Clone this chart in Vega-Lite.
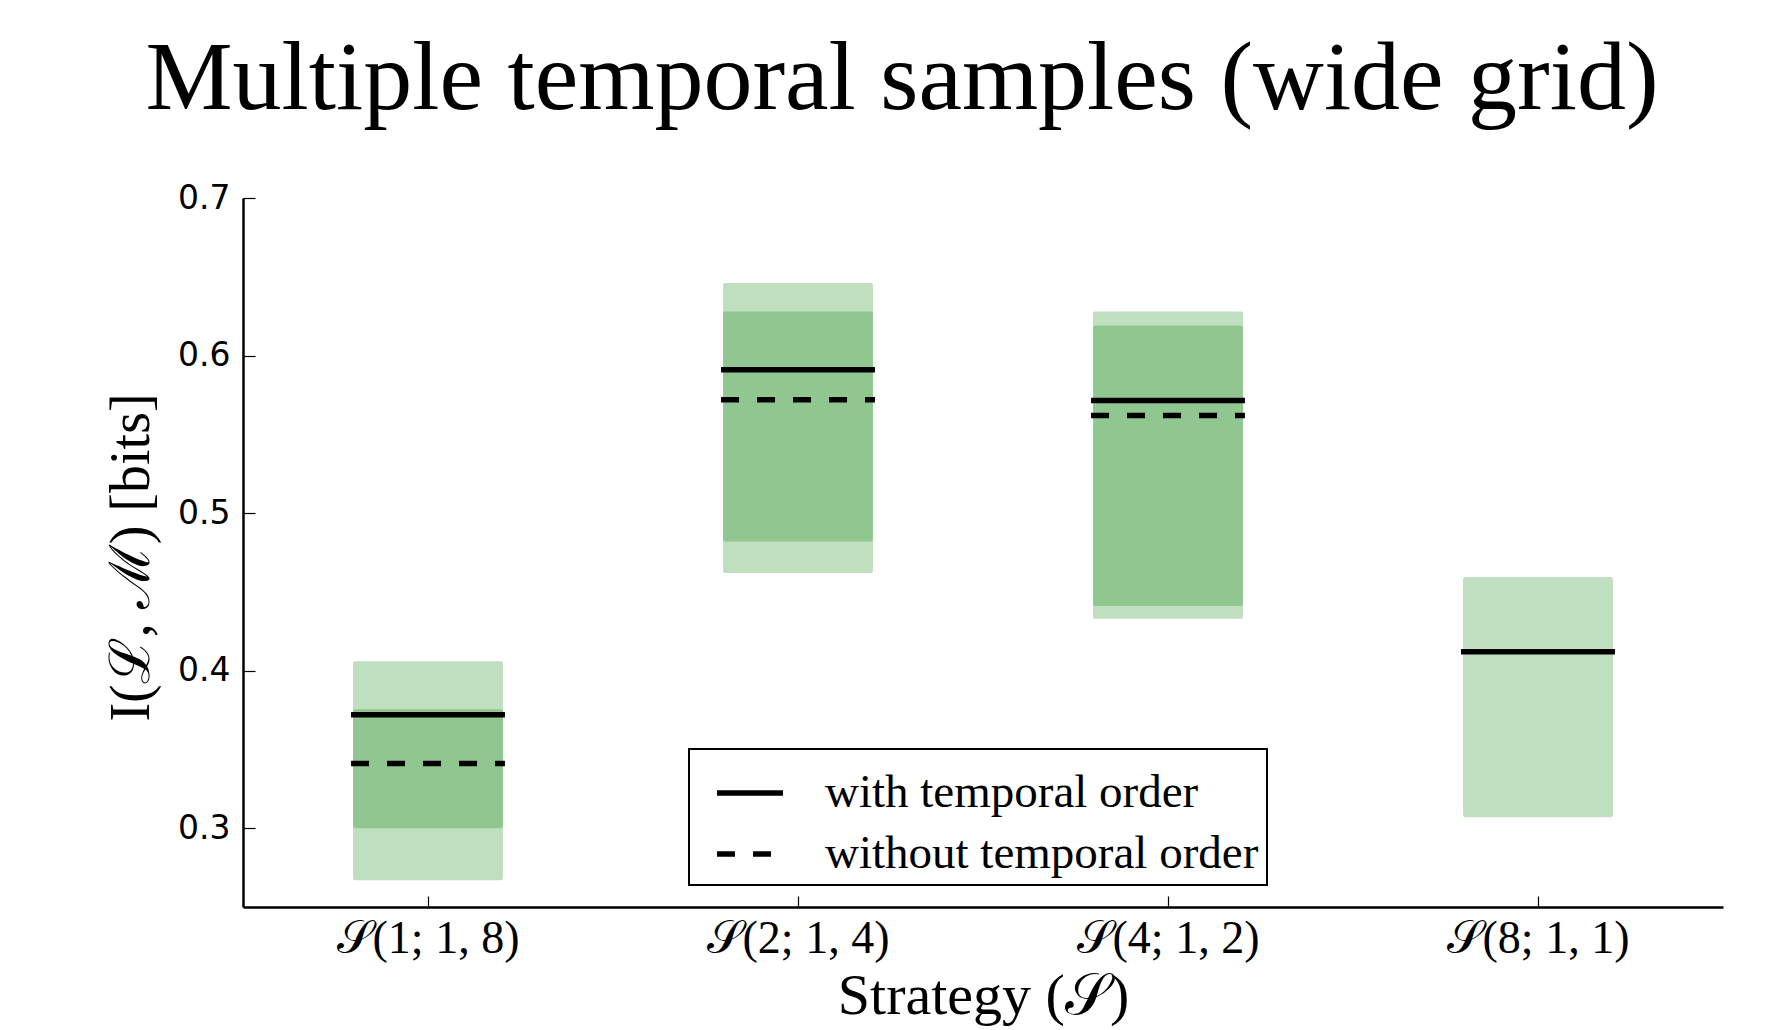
{
  "$schema": "https://vega.github.io/schema/vega-lite/v6.json",
  "width": 1480,
  "height": 709,
  "autosize": {"type": "none"},
  "padding": {"left": 243, "top": 198, "right": 58, "bottom": 123},
  "background": "white",
  "title": {
    "text": "Multiple temporal samples (wide grid)",
    "font": "Liberation Serif",
    "fontSize": 98,
    "fontWeight": "normal",
    "color": "black",
    "anchor": "middle",
    "frame": "group",
    "dx": -81,
    "baseline": "alphabetic",
    "offset": -25
  },
  "datasets": {
    "outer": [
      {"strategy": "𝒮(1; 1, 8)", "low": 0.267, "high": 0.406},
      {"strategy": "𝒮(2; 1, 4)", "low": 0.462, "high": 0.646},
      {"strategy": "𝒮(4; 1, 2)", "low": 0.433, "high": 0.628},
      {"strategy": "𝒮(8; 1, 1)", "low": 0.307, "high": 0.4595}
    ],
    "inner": [
      {"strategy": "𝒮(1; 1, 8)", "low": 0.300, "high": 0.3755},
      {"strategy": "𝒮(2; 1, 4)", "low": 0.482, "high": 0.628},
      {"strategy": "𝒮(4; 1, 2)", "low": 0.441, "high": 0.619}
    ],
    "means": [
      {"strategy": "𝒮(1; 1, 8)", "series": "with temporal order", "value": 0.372},
      {"strategy": "𝒮(2; 1, 4)", "series": "with temporal order", "value": 0.591},
      {"strategy": "𝒮(4; 1, 2)", "series": "with temporal order", "value": 0.5715},
      {"strategy": "𝒮(8; 1, 1)", "series": "with temporal order", "value": 0.412},
      {"strategy": "𝒮(1; 1, 8)", "series": "without temporal order", "value": 0.341},
      {"strategy": "𝒮(2; 1, 4)", "series": "without temporal order", "value": 0.572},
      {"strategy": "𝒮(4; 1, 2)", "series": "without temporal order", "value": 0.562}
    ]
  },
  "encoding": {
    "x": {
      "field": "strategy",
      "type": "nominal",
      "sort": ["𝒮(1; 1, 8)", "𝒮(2; 1, 4)", "𝒮(4; 1, 2)", "𝒮(8; 1, 1)"],
      "scale": {"type": "band", "paddingInner": 0, "paddingOuter": 0, "domain": ["𝒮(1; 1, 8)", "𝒮(2; 1, 4)", "𝒮(4; 1, 2)", "𝒮(8; 1, 1)"]},
      "axis": {
        "title": "Strategy (𝒮)",
        "titleFont": "Liberation Serif",
        "titleFontSize": 58,
        "titleFontWeight": "normal",
        "titleColor": "black",
        "titleBaseline": "alphabetic",
        "titleY": 106,
        "labelFont": "Liberation Serif",
        "labelFontSize": 46,
        "labelColor": "black",
        "labelAngle": 0,
        "labelPadding": 20,
        "labelLimit": 400,
        "tickSize": -11,
        "tickColor": "black",
        "tickWidth": 1.2,
        "domainColor": "black",
        "domainWidth": 2.5,
        "grid": false
      }
    }
  },
  "layer": [
    {
      "data": {"name": "outer"},
      "mark": {"type": "bar", "color": "#bfdfbf", "width": {"band": 0.405}, "cornerRadius": 2},
      "encoding": {
        "y": {
          "field": "low",
          "type": "quantitative",
          "scale": {"domain": [0.25, 0.7], "nice": false, "zero": false},
          "axis": {
            "title": "I(ℒ, ℳ) [bits]",
            "titleFont": "Liberation Serif",
            "titleFontSize": 56,
            "titleFontWeight": "normal",
            "titleColor": "black",
            "titleX": -112,
            "titleY": 359,
            "titleBaseline": "middle",
            "titleAngle": -90,
            "values": [0.3, 0.4, 0.5, 0.6, 0.7],
            "format": ".1f",
            "labelFont": "DejaVu Sans",
            "labelFontSize": 33,
            "labelColor": "black",
            "labelPadding": 25,
            "tickSize": -12,
            "tickColor": "black",
            "tickWidth": 1.2,
            "domainColor": "black",
            "domainWidth": 2.5,
            "grid": false
          }
        },
        "y2": {"field": "high"}
      }
    },
    {
      "data": {"name": "inner"},
      "mark": {"type": "bar", "color": "#90c790", "width": {"band": 0.405}, "cornerRadius": 2},
      "encoding": {
        "y": {"field": "low", "type": "quantitative"},
        "y2": {"field": "high"}
      }
    },
    {
      "data": {"name": "means"},
      "mark": {"type": "rule", "strokeWidth": 5.5, "color": "black"},
      "encoding": {
        "x": {"field": "strategy", "type": "nominal", "bandPosition": 0.292},
        "x2": {"field": "strategy", "bandPosition": 0.708},
        "y": {"field": "value", "type": "quantitative"},
        "strokeDash": {
          "field": "series",
          "type": "nominal",
          "scale": {"domain": ["with temporal order", "without temporal order"], "range": [[1, 0], [18, 18]]},
          "legend": {
            "orient": "none",
            "legendX": 446,
            "legendY": 551,
            "title": null,
            "symbolType": "stroke",
            "symbolSize": 4356,
            "symbolStrokeWidth": 5.5,
            "symbolStrokeColor": "black",
            "symbolOffset": 17,
            "labelFont": "Liberation Serif",
            "labelFontSize": 47,
            "labelColor": "black",
            "labelLimit": 700,
            "labelOffset": 39,
            "padding": 8,
            "rowPadding": 2,
            "strokeColor": "black",
            "fillColor": "white",
            "cornerRadius": 0
          }
        }
      }
    }
  ],
  "config": {
    "view": {"stroke": null},
    "legend": {"strokeWidth": 2}
  }
}
